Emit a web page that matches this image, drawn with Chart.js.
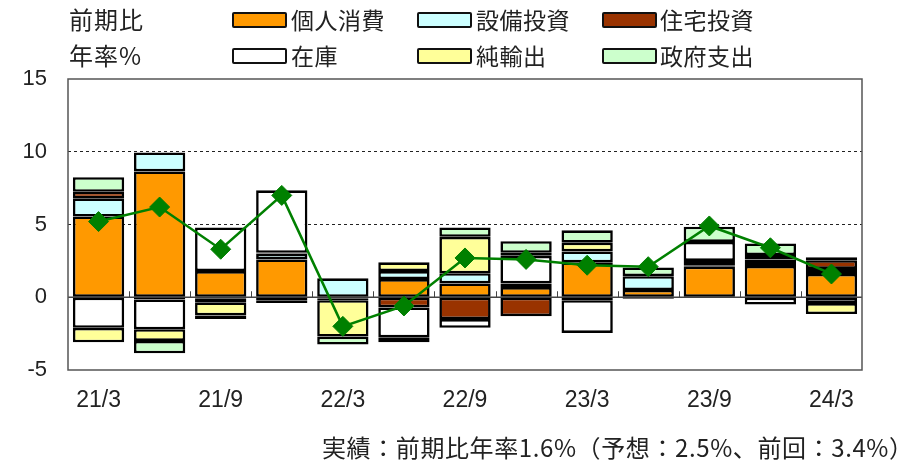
<!DOCTYPE html>
<html>
<head>
<meta charset="utf-8">
<script src="https://cdn.jsdelivr.net/npm/chart.js@4/dist/chart.umd.min.js"></script>
<style>
  html, body { margin: 0; padding: 0; background: #fff; }
  #wrap { position: relative; width: 910px; height: 461px; overflow: hidden; font-family: "Noto Sans CJK JP", "Liberation Sans", sans-serif; color: #222; }
  #c { position: absolute; left: 0; top: 0; }
  .t { position: absolute; font-size: 23px; letter-spacing: 0.5px; line-height: 1; white-space: nowrap; }
  .u { position: absolute; font-size: 24px; letter-spacing: 1px; line-height: 1; white-space: nowrap; }
  .sw { position: absolute; width: 51px; height: 12px; border: 2px solid #111; border-radius: 2px; }
  #note { position: absolute; left: 322px; top: 435px; font-size: 24px; letter-spacing: 0.6px; line-height: 1; white-space: nowrap; }
</style>
</head>
<body>
<div id="wrap">
  <canvas id="c" width="910" height="461"></canvas>
  <div class="u" style="left:69px;top:7px;">前期比</div>
  <div class="u" style="left:69px;top:43px;">年率%</div>

  <div class="sw" style="left:232px;top:12px;background:#FF9900;"></div>
  <div class="t" style="left:291px;top:8px;">個人消費</div>
  <div class="sw" style="left:417px;top:12px;background:#CCFFFF;"></div>
  <div class="t" style="left:476px;top:8px;">設備投資</div>
  <div class="sw" style="left:602px;top:12px;background:#993300;"></div>
  <div class="t" style="left:660px;top:8px;">住宅投資</div>

  <div class="sw" style="left:232px;top:48px;background:#FFFFFF;"></div>
  <div class="t" style="left:291px;top:44px;">在庫</div>
  <div class="sw" style="left:417px;top:48px;background:#FFFF99;"></div>
  <div class="t" style="left:476px;top:44px;">純輸出</div>
  <div class="sw" style="left:602px;top:48px;background:#CCFFCC;"></div>
  <div class="t" style="left:660px;top:44px;">政府支出</div>

  <div id="note">実績：前期比年率1.6%（予想：2.5%、前回：3.4%）</div>
</div>
<script>
const categories = ['21/3','21/6','21/9','21/12','22/3','22/6','22/9','22/12','23/3','23/6','23/9','23/12','24/3'];
const personal    = [5.55, 8.65, 1.8, 2.6, -0.1, 1.25, 0.95, 0.7, 2.4, 0.5, 2.1, 2.15, 1.6];
const business    = [1.25, 1.3, -0.1, 0.4, 1.3, 0.55, 0.7, 0.25, 0.75, 0.95, 0.1, 0.35, 0.35];
const residential = [0.45, -0.15, -0.25, 0.05, -0.1, -0.7, -1.5, -1.3, -0.2, -0.1, 0.3, 0.1, 0.6];
const inventory   = [-2.1, -2.05, 3.0, 4.3, 0, -2.05, -0.6, 1.9, -2.25, 0, 1.3, -0.5, -0.4];
const netExports  = [-1.0, -0.8, -0.9, -0.2, -2.5, 0.6, 2.5, 0.2, 0.6, 0, 0, 0.3, -0.75];
const government  = [1.0, -0.85, -0.25, -0.2, -0.55, -0.35, 0.65, 0.8, 0.85, 0.6, 1.05, 0.8, 0.2];
const gdp         = [5.2, 6.2, 3.3, 7.0, -2.0, -0.6, 2.7, 2.6, 2.2, 2.1, 4.9, 3.4, 1.6];
const yTicks = [-5, 0, 5, 10, 15];

const barBase = {
  type: 'bar', borderColor: '#000', borderWidth: 2.6, borderSkipped: false,
  barPercentage: 0.84, categoryPercentage: 1.0, stack: 'gdp', order: 2
};

const frame = {
  id: 'frame',
  beforeDatasetsDraw(chart) {
    const {ctx, chartArea: a, scales: {x, y}} = chart;
    ctx.save();
    const y0 = y.getPixelForValue(0);
    ctx.strokeStyle = '#444';
    ctx.lineWidth = 1.5;
    ctx.beginPath();
    ctx.moveTo(a.left, y0); ctx.lineTo(a.right, y0);
    ctx.stroke();
    ctx.lineWidth = 1;
    for (let i = 0; i < categories.length - 1; i++) {
      const bx = Math.round((x.getPixelForValue(i) + x.getPixelForValue(i + 1)) / 2) + 0.5;
      ctx.beginPath(); ctx.moveTo(bx, y0); ctx.lineTo(bx, y0 - 6); ctx.stroke();
    }
    ctx.restore();
  },
  afterDraw(chart) {
    const {ctx, chartArea: a} = chart;
    ctx.save();
    ctx.strokeStyle = '#555';
    ctx.lineWidth = 1.5;
    ctx.strokeRect(a.left, a.top, a.right - a.left, a.bottom - a.top);
    ctx.restore();
  }
};

new Chart(document.getElementById('c'), {
  data: {
    labels: categories,
    datasets: [
      Object.assign({}, barBase, {label: '個人消費', data: personal, backgroundColor: '#FF9900'}),
      Object.assign({}, barBase, {label: '設備投資', data: business, backgroundColor: '#CCFFFF'}),
      Object.assign({}, barBase, {label: '住宅投資', data: residential, backgroundColor: '#993300'}),
      Object.assign({}, barBase, {label: '在庫', data: inventory, backgroundColor: '#FFFFFF'}),
      Object.assign({}, barBase, {label: '純輸出', data: netExports, backgroundColor: '#FFFF99'}),
      Object.assign({}, barBase, {label: '政府支出', data: government, backgroundColor: '#CCFFCC'}),
      {
        type: 'line', label: 'GDP', data: gdp, stack: 'line', order: 0,
        borderColor: '#008000', borderWidth: 2.5, backgroundColor: '#008000',
        pointStyle: 'rectRot', pointRadius: 10, pointBorderWidth: 1, pointBorderColor: '#008000',
        pointBackgroundColor: '#008000', tension: 0, fill: false
      }
    ]
  },
  options: {
    responsive: false, animation: false,
    layout: { padding: { top: 79, right: 48, bottom: 41, left: 0 } },
    plugins: { legend: { display: false }, tooltip: { enabled: false } },
    scales: {
      x: {
        stacked: true, offset: true,
        grid: { display: false, drawTicks: false },
        border: { display: false },
        ticks: {
          autoSkip: false, maxRotation: 0, padding: 17,
          color: '#222', font: { family: 'Liberation Sans', size: 23 },
          callback: (v, i) => (i % 2 === 0 ? categories[i] : '')
        },
        afterFit(s) { s.height = 50; }
      },
      y: {
        stacked: true, min: -5, max: 15,
        afterBuildTicks(s) { s.ticks = yTicks.map(v => ({value: v})); },
        grid: {
          drawTicks: false, lineWidth: 1,
          color: c => (c.tick && (c.tick.value === 5 || c.tick.value === 10)) ? '#222' : 'rgba(0,0,0,0)'
        },
        border: { display: false, dash: [3, 3] },
        ticks: { padding: 21, color: '#222', font: { family: 'Liberation Sans', size: 22 } },
        afterFit(s) { s.width = 68; }
      }
    }
  },
  plugins: [frame]
});
</script>
</body>
</html>
